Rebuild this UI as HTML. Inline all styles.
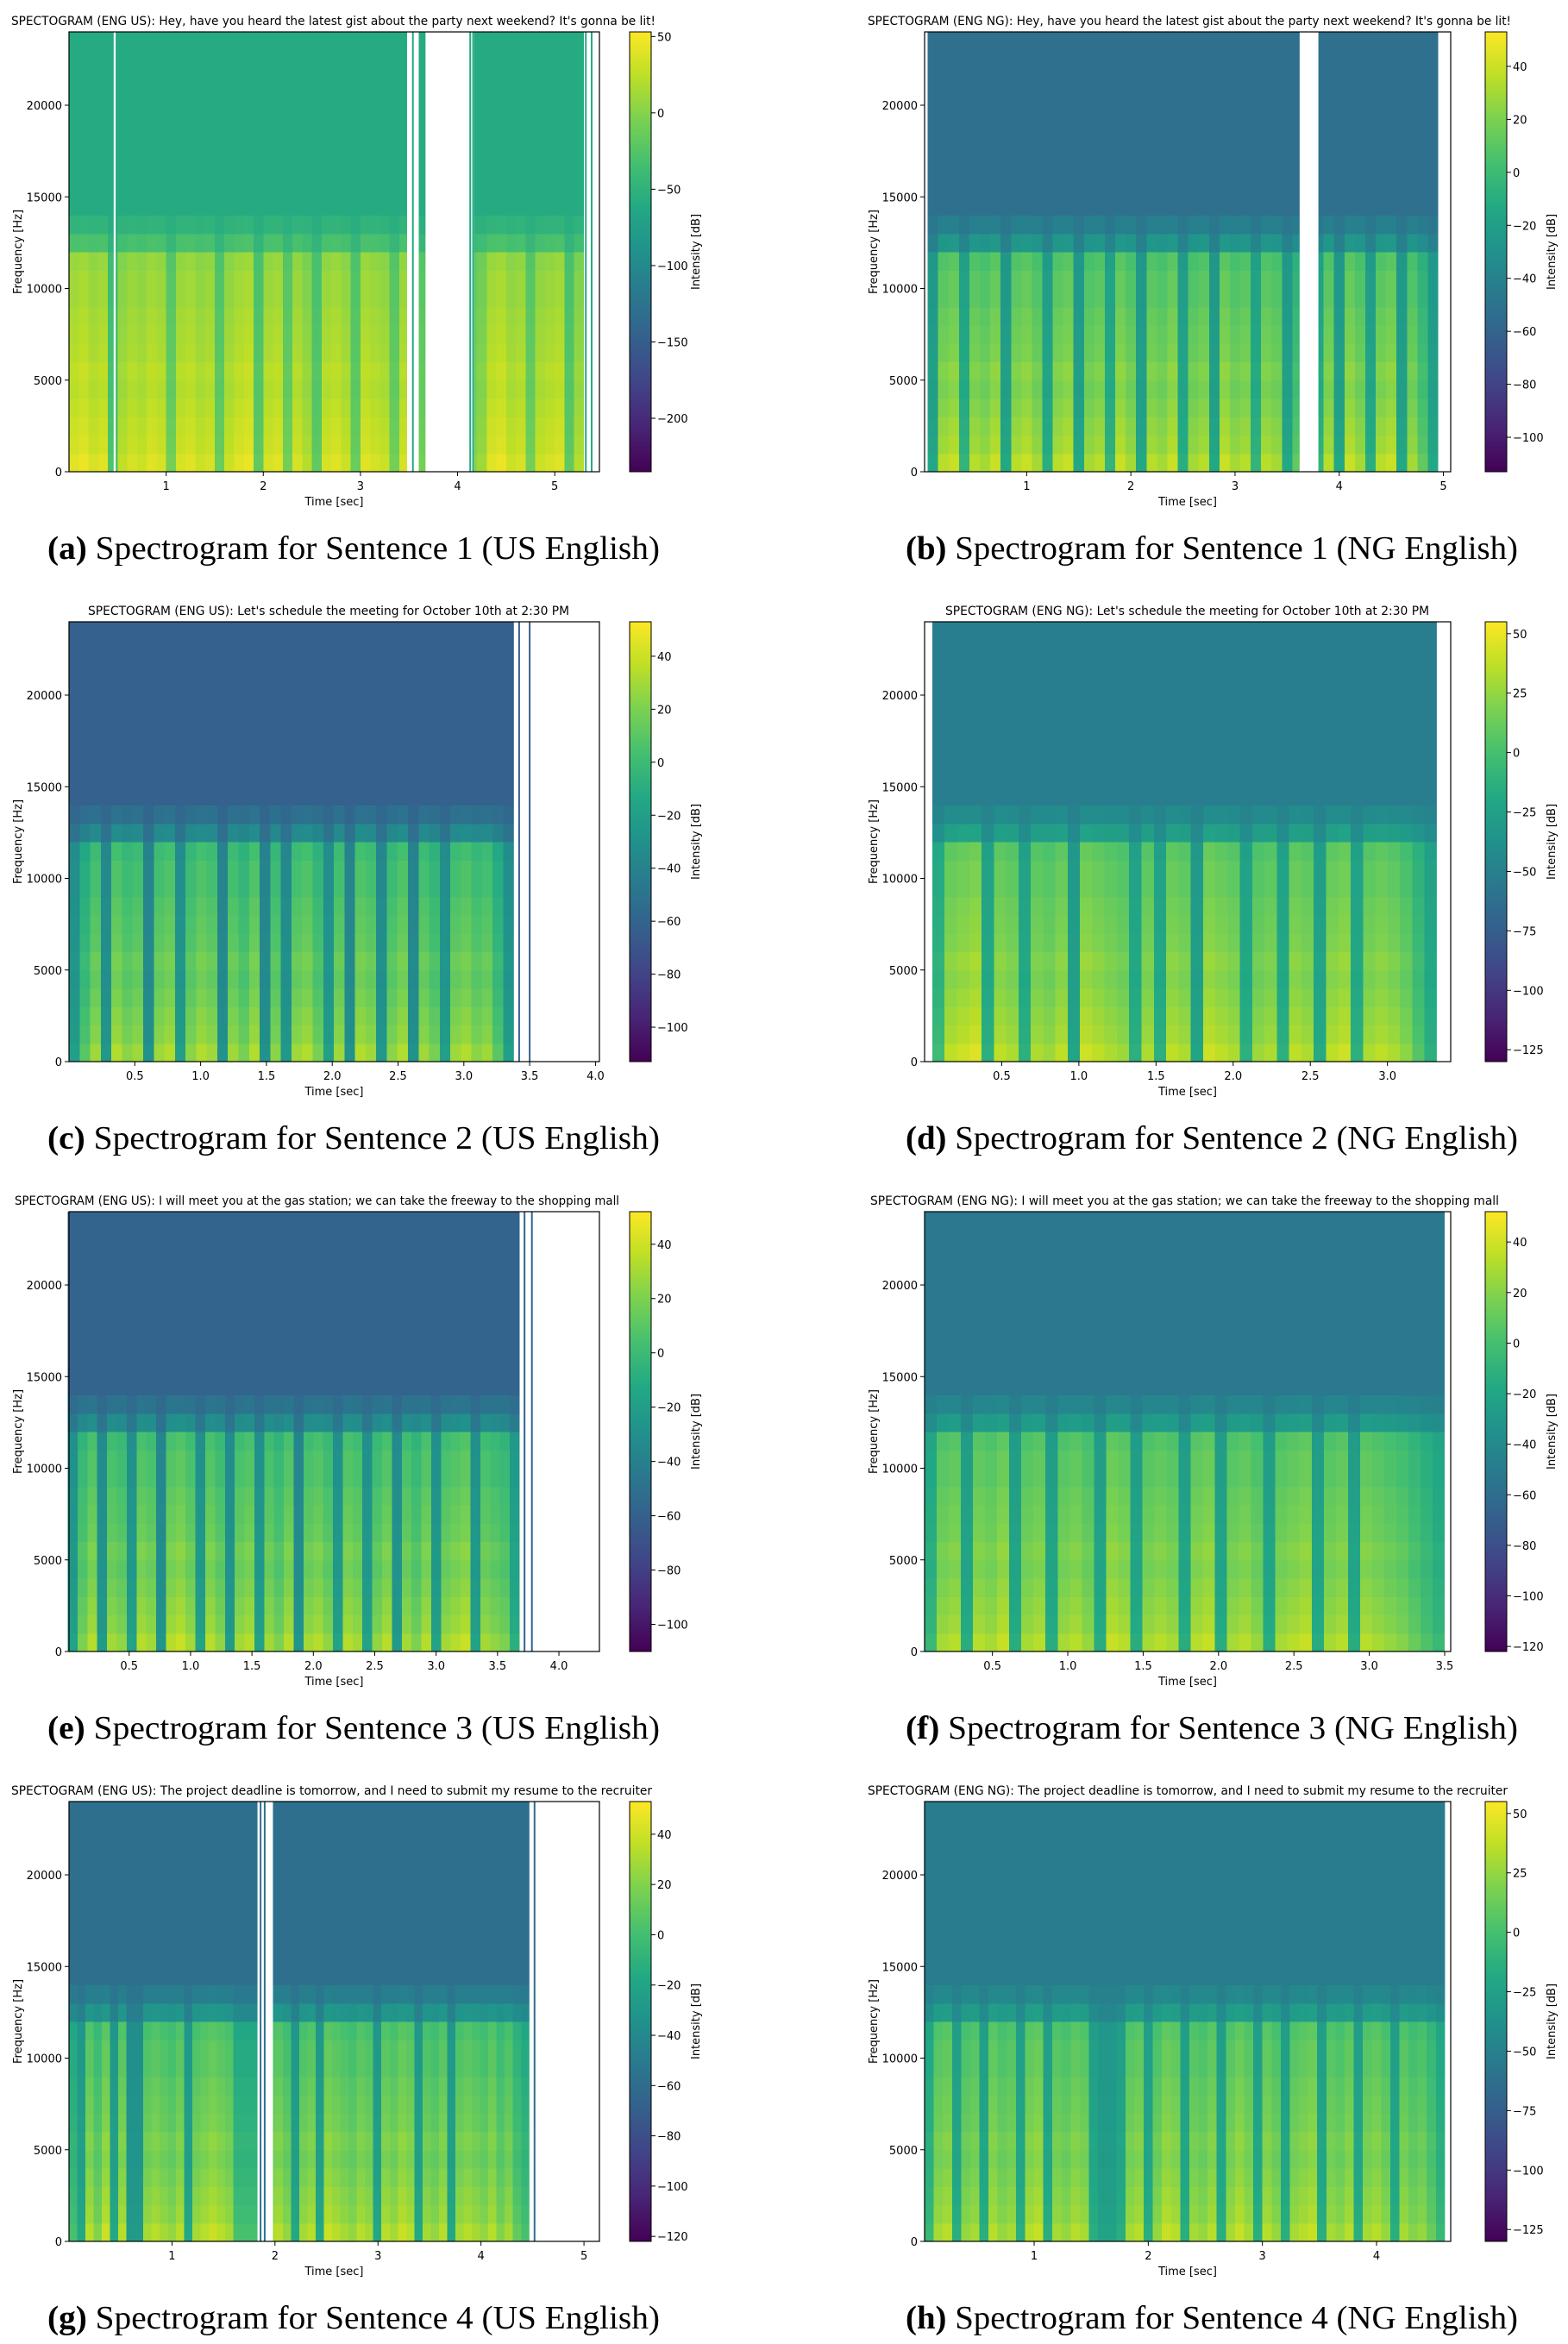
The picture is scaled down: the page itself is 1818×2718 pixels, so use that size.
<!DOCTYPE html>
<html><head><meta charset="utf-8"><style>
html,body{margin:0;padding:0;background:#fff}
svg{display:block}
text{font-family:"DejaVu Sans","Liberation Sans",sans-serif;fill:#000}
.cap{font-family:"Liberation Serif",serif;font-size:38px}
</style></head><body>
<svg id="fig" width="1818" height="2718" viewBox="0 0 1818 2718" xmlns="http://www.w3.org/2000/svg"></svg>
<script>
// ---- data arrays ----
const panelIds = ['a','b','c','d','e','f','g','h'];
const titles = [
"SPECTOGRAM (ENG US): Hey, have you heard the latest gist about the party next weekend? It's gonna be lit!",
"SPECTOGRAM (ENG NG): Hey, have you heard the latest gist about the party next weekend? It's gonna be lit!",
"SPECTOGRAM (ENG US): Let's schedule the meeting for October 10th at 2:30 PM",
"SPECTOGRAM (ENG NG): Let's schedule the meeting for October 10th at 2:30 PM",
"SPECTOGRAM (ENG US): I will meet you at the gas station; we can take the freeway to the shopping mall",
"SPECTOGRAM (ENG NG): I will meet you at the gas station; we can take the freeway to the shopping mall",
"SPECTOGRAM (ENG US): The project deadline is tomorrow, and I need to submit my resume to the recruiter",
"SPECTOGRAM (ENG NG): The project deadline is tomorrow, and I need to submit my resume to the recruiter"];
const captions = [
"Spectrogram for Sentence 1 (US English)","Spectrogram for Sentence 1 (NG English)",
"Spectrogram for Sentence 2 (US English)","Spectrogram for Sentence 2 (NG English)",
"Spectrogram for Sentence 3 (US English)","Spectrogram for Sentence 3 (NG English)",
"Spectrogram for Sentence 4 (US English)","Spectrogram for Sentence 4 (NG English)"];
const xRanges = [[0,5.46],[0.02,5.07],[0,4.03],[0,3.41],[0.01,4.33],[0.05,3.54],[0,5.15],[0.04,4.65]];
const xTicks = [[1,2,3,4,5],[1,2,3,4,5],[0.5,1,1.5,2,2.5,3,3.5,4],[0.5,1,1.5,2,2.5,3],
 [0.5,1,1.5,2,2.5,3,3.5,4],[0.5,1,1.5,2,2.5,3,3.5],[1,2,3,4,5],[1,2,3,4]];
const xTickDecimals = [0,0,1,1,1,1,0,0];
const yTicks = [0,5000,10000,15000,20000];
const yMax = 24000;
const cbRanges = [[-235,53],[-113,53],[-113,53],[-130,55],[-110,52],[-122,52],[-122,53],[-130,55]];
const cbTicks = [[50,0,-50,-100,-150,-200],[40,20,0,-20,-40,-60,-80,-100],[40,20,0,-20,-40,-60,-80,-100],
 [50,25,0,-25,-50,-75,-100,-125],[40,20,0,-20,-40,-60,-80,-100],[40,20,0,-20,-40,-60,-80,-100,-120],
 [40,20,0,-20,-40,-60,-80,-100,-120],[50,25,0,-25,-50,-75,-100,-125]];
const dataSpans = [[0,5.3],[0.05,4.95],[0,3.38],[0.05,3.32],[0,3.68],[0.05,3.5],[0,4.47],[0.04,4.6]];
const whiteGaps = [[[0.46,0.48],[3.48,3.6],[3.67,4.17],[5.3,5.46]],[[3.62,3.8],[4.95,5.07]],[[3.38,4.03]],[[0,0.05],[3.32,3.41]],
 [[3.68,4.33]],[[3.5,3.54]],[[1.83,1.98],[4.47,5.15]],[[4.6,4.65]]];
const thinLines = [[3.54,4.13,4.16,5.32,5.38],[],[3.42,3.5],[],[3.72,3.78],[],[1.86,1.9,4.52],[]];
const bgLevels = [-60,-52,-62,-52,-58,-52,-58,-54];
const hiLevels = [50,48,48,50,48,46,48,48];
// relative strength per 1000 Hz band (0-1000 ... 23000-24000)
const bandShape = [1.0,0.93,0.9,0.86,0.82,0.85,0.8,0.78,0.76,0.72,0.72,0.68,0.3,0.12,0,0,0,0,0,0,0,0,0,0];
const energies = [
[0.9,0.95,0.85,0.9,0.2,0.75,0.85,0.8,0.9,0.85,0.4,0.85,0.9,0.8,0.85,0.35,0.8,0.9,0.95,0.3,0.85,0.9,0.4,0.85,0.7,0.3,0.85,0.9,0.8,0.35,0.9,0.85,0.8,0.4,0.85,0.8,0.4,0.6,0.5,0.5,0.5,0.5,0.6,0.9,0.95,0.8,0.85,0.4,0.8,0.85,0.9,0.3,0.7],
[0.3,0.85,0.9,0.4,0.85,0.8,0.9,0.3,0.85,0.9,0.8,0.35,0.85,0.9,0.3,0.8,0.85,0.4,0.9,0.8,0.3,0.85,0.8,0.9,0.35,0.8,0.85,0.3,0.9,0.8,0.85,0.4,0.85,0.8,0.3,0.6,0.5,0.4,0.85,0.3,0.9,0.8,0.35,0.85,0.9,0.3,0.8,0.6,0.3],
[0.3,0.6,0.8,0.25,0.85,0.75,0.8,0.2,0.8,0.85,0.3,0.75,0.85,0.8,0.2,0.8,0.7,0.85,0.2,0.75,0.25,0.8,0.85,0.7,0.3,0.8,0.2,0.85,0.8,0.25,0.75,0.85,0.2,0.8,0.7,0.3,0.8,0.85,0.75,0.8,0.6,0.3],
[0.4,0.85,0.9,0.95,0.3,0.85,0.8,0.3,0.8,0.75,0.85,0.2,0.9,0.85,0.8,0.75,0.3,0.8,0.3,0.85,0.8,0.2,0.9,0.85,0.8,0.3,0.75,0.8,0.3,0.85,0.8,0.25,0.85,0.9,0.3,0.8,0.85,0.8,0.7,0.5,0.3],
[0.3,0.7,0.85,0.25,0.8,0.75,0.3,0.85,0.8,0.2,0.85,0.9,0.8,0.3,0.85,0.75,0.25,0.8,0.85,0.3,0.8,0.7,0.85,0.2,0.8,0.85,0.75,0.3,0.85,0.8,0.3,0.75,0.85,0.25,0.8,0.7,0.85,0.3,0.8,0.85,0.9,0.3,0.8,0.75,0.7,0.4],
[0.4,0.8,0.85,0.3,0.85,0.8,0.9,0.3,0.8,0.85,0.3,0.8,0.85,0.75,0.3,0.9,0.85,0.3,0.8,0.85,0.8,0.3,0.85,0.9,0.3,0.8,0.85,0.75,0.3,0.8,0.85,0.9,0.3,0.8,0.85,0.3,0.85,0.8,0.75,0.7,0.6,0.5,0.4],
[0.5,0.3,0.85,0.7,0.9,0.3,0.85,0.2,0.2,0.8,0.85,0.8,0.75,0.85,0.3,0.8,0.85,0.9,0.85,0.8,0.5,0.5,0.5,0.5,0.8,0.85,0.75,0.3,0.8,0.85,0.3,0.9,0.85,0.8,0.75,0.85,0.8,0.3,0.85,0.8,0.9,0.85,0.3,0.8,0.75,0.85,0.3,0.8,0.85,0.8,0.75,0.85,0.7,0.8,0.6,0.5],
[0.4,0.8,0.85,0.3,0.75,0.8,0.3,0.85,0.75,0.8,0.3,0.85,0.9,0.3,0.8,0.75,0.85,0.8,0.3,0.2,0.2,0.3,0.8,0.85,0.3,0.75,0.9,0.85,0.3,0.8,0.75,0.85,0.3,0.8,0.9,0.8,0.3,0.85,0.75,0.3,0.8,0.85,0.9,0.3,0.8,0.75,0.85,0.3,0.8,0.85,0.75,0.3,0.8,0.7,0.75,0.6,0.4]];

// ---- layout ----
const NS='http://www.w3.org/2000/svg';
const svg=document.getElementById('fig');
const cols=[{ax0:80,ax1:695,cb0:730,cb1:755,ylab:25,cx:410},{ax0:1072,ax1:1682,cb0:1722,cb1:1747,ylab:1017,cx:1405}];
const titleSpans=[[13,760],[1006,1752],[102,660],[1096,1657],[17,718],[1009,1738],[13,756],[1006,1748]];
const vir=['#440154','#482475','#414487','#355f8d','#2a788e','#21918c','#22a884','#44bf70','#7ad151','#bddf26','#fde725'];
function hex(h){return [parseInt(h.substr(1,2),16),parseInt(h.substr(3,2),16),parseInt(h.substr(5,2),16)];}
const virRGB=vir.map(hex);
function viridis(t){t=Math.max(0,Math.min(1,t));const s=t*10,i=Math.min(9,Math.floor(s)),f=s-i;const a=virRGB[i],b=virRGB[i+1];
 return 'rgb('+a.map((v,k)=>Math.round(v+(b[k]-v)*f)).join(',')+')';}
function el(tag,attrs,parent){const e=document.createElementNS(NS,tag);for(const k in attrs)e.setAttribute(k,attrs[k]);(parent||svg).appendChild(e);return e;}
const defs=el('defs',{});
const lg=el('linearGradient',{id:'vg',x1:0,y1:1,x2:0,y2:0},defs);
vir.forEach((c,i)=>el('stop',{offset:(i/10),'stop-color':c},lg));

panelIds.forEach((pid,p)=>{
 const col=cols[p%2], row=Math.floor(p/2);
 const top=37+684*row, bot=top+510;
 const g=el('g',{});
 
 
 const [xmin,xmax]=xRanges[p];
 const X=t=>col.ax0+(t-xmin)/(xmax-xmin)*(col.ax1-col.ax0);
 const Y=f=>bot-f/yMax*(bot-top);
 const [cmin,cmax]=cbRanges[p];
 const N=v=>(v-cmin)/(cmax-cmin);
 const hm=el('g',{'shape-rendering':'crispEdges'},g);
 
 
 const E=energies[p],[d0,d1]=dataSpans[p],dt=(d1-d0)/E.length,df=1000;
 const bgN=N(bgLevels[p]),hiN=N(hiLevels[p]);
 for(let i=0;i<E.length;i++){
  const x0=X(d0+i*dt),x1=X(d0+(i+1)*dt);
  for(let b=0;b<bandShape.length;b++){
   const pr=bandShape[b];
   const v=bgN+(0.12+0.88*E[i])*(hiN-bgN)*pr;
   const r=el('rect',{x:x0.toFixed(2),y:Y((b+1)*df).toFixed(2),width:(x1-x0+0.6).toFixed(2),height:(Y(b*df)-Y((b+1)*df)+0.6).toFixed(2),fill:viridis(v)},hm);
   
   
  }
 }
 whiteGaps[p].forEach(([a,b])=>{
  const r=el('rect',{x:X(a),y:top,width:Math.max(1,X(b)-X(a)),height:bot-top,fill:'#fff'},g);
  
  
 });
 thinLines[p].forEach(t=>{
  const l=el('line',{x1:X(t),x2:X(t),y1:top,y2:bot,stroke:viridis(bgN),'stroke-width':2},g);
  
  
 });
 const fr=el('rect',{x:col.ax0,y:top,width:col.ax1-col.ax0,height:bot-top,fill:'none',stroke:'#000','stroke-width':1.2},g);
 
 
 xTicks[p].forEach(t=>{
  el('line',{x1:X(t),x2:X(t),y1:bot,y2:bot+5,stroke:'#000'},g);
  const tx=el('text',{x:X(t),y:bot+21,'font-size':13,'text-anchor':'middle'},g);
  tx.textContent=t.toFixed(xTickDecimals[p]);
  
  
 });
 const xl=el('text',{x:(col.ax0+col.ax1)/2,y:bot+39,'font-size':13,'text-anchor':'middle'},g);
 xl.textContent='Time [sec]';
 
 
 yTicks.forEach(f=>{
  el('line',{x1:col.ax0-5,x2:col.ax0,y1:Y(f),y2:Y(f),stroke:'#000'},g);
  const ty=el('text',{x:col.ax0-8,y:Y(f)+5,'font-size':13,'text-anchor':'end'},g);
  ty.textContent=String(f);
  
  
 });
 const yl=el('text',{x:col.ylab,y:(top+bot)/2,'font-size':13,'text-anchor':'middle',transform:'rotate(-90 '+col.ylab+' '+(top+bot)/2+')'},g);
 yl.textContent='Frequency [Hz]';
 
 
 const [t0,t1]=titleSpans[p];
 const ti=el('text',{x:t0,y:top-8,'font-size':14,textLength:t1-t0,lengthAdjust:'spacingAndGlyphs'},g);
 ti.textContent=titles[p];
 
 
 const cb=el('rect',{x:col.cb0,y:top,width:col.cb1-col.cb0,height:bot-top,fill:'url(#vg)',stroke:'#000','stroke-width':1},g);
 
 
 const CY=v=>bot-N(v)*(bot-top);
 cbTicks[p].forEach(v=>{
  el('line',{x1:col.cb1,x2:col.cb1+5,y1:CY(v),y2:CY(v),stroke:'#000'},g);
  const ct=el('text',{x:col.cb1+7,y:CY(v)+5,'font-size':13},g);
  ct.textContent=(v<0?'\u2212'+(-v):String(v));
  
  
 });
 const cl=el('text',{x:col.cb1+56,y:(top+bot)/2,'font-size':13,'text-anchor':'middle',transform:'rotate(-90 '+(col.cb1+56)+' '+(top+bot)/2+')'},g);
 cl.textContent='Intensity [dB]';
 
 
 const cp=el('text',{x:col.cx-355,y:top+611,class:'cap',textLength:710,lengthAdjust:'spacingAndGlyphs'},g);
 const b=el('tspan',{'font-weight':'bold'},cp); b.textContent='('+pid+') ';
 const s=el('tspan',{},cp); s.textContent=captions[p];
 
 
});
</script>
</body></html>
